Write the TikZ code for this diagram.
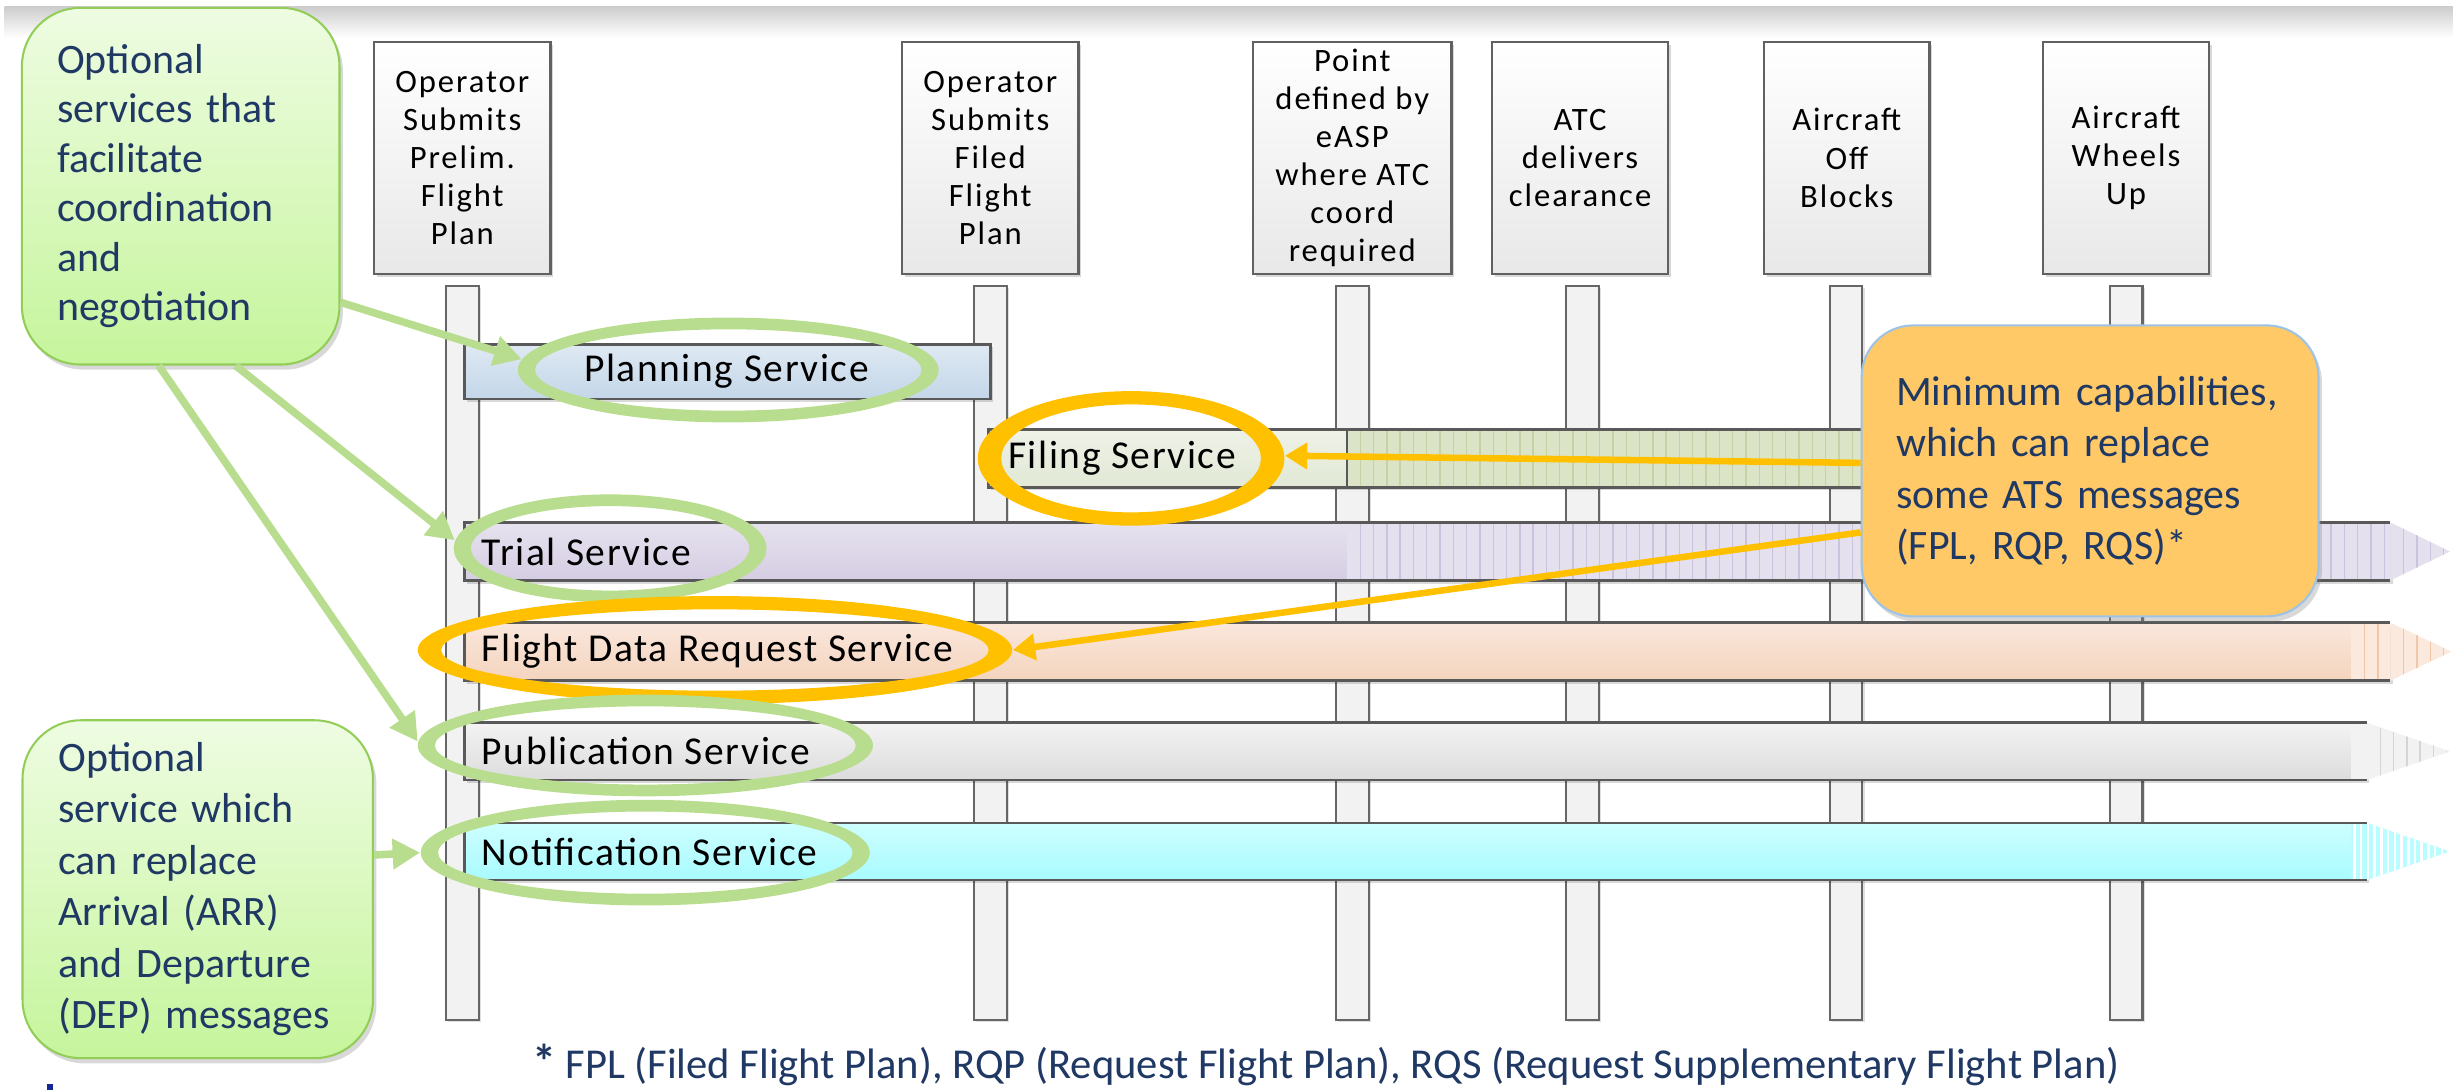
\documentclass[tikz,border=0pt]{standalone}
\usepackage{fontspec}
\setmainfont{Carlito}
\newfontfamily\hdrfont[LetterSpace=6]{Carlito}
\newfontfamily\barfont[LetterSpace=4]{Carlito}
\usetikzlibrary{arrows.meta,shadows,shapes.geometric}
\newcommand\PX[1]{#1*0.016cm}
\definecolor{navy}{HTML}{1F3864}
\definecolor{grn}{HTML}{B9DD8E}
\definecolor{orng}{HTML}{FFC000}
\definecolor{callT}{HTML}{EEFCE2}
\definecolor{callB}{HTML}{C6F59C}
\definecolor{callD}{HTML}{92CD58}
\definecolor{oboxF}{HTML}{FEC966}
\definecolor{oboxD}{HTML}{9DC3E6}
\definecolor{plnT}{HTML}{DFE9F3}
\definecolor{plnB}{HTML}{C3D6E8}
\definecolor{filT}{HTML}{EFF2E8}
\definecolor{filB}{HTML}{E1E8D4}
\definecolor{filS}{HTML}{DCE4C8}
\definecolor{filL}{HTML}{C6D1A6}
\definecolor{triT}{HTML}{E6E2EF}
\definecolor{triB}{HTML}{D5CDE3}
\definecolor{triS}{HTML}{E4E0EE}
\definecolor{triL}{HTML}{CBC3DD}
\definecolor{fdrT}{HTML}{FAE7DC}
\definecolor{fdrB}{HTML}{F4D4BE}
\definecolor{fdrS}{HTML}{FBE9DE}
\definecolor{fdrL}{HTML}{EFC6A8}
\definecolor{pubT}{HTML}{F3F3F3}
\definecolor{pubB}{HTML}{DCDCDC}
\definecolor{pubS}{HTML}{F2F2F2}
\definecolor{pubL}{HTML}{D5D5D5}
\definecolor{notT}{HTML}{CDFEFF}
\definecolor{notB}{HTML}{A8FBFF}
\definecolor{notS}{HTML}{B8FDFF}
\tikzset{
  hdrbox/.style={draw=black!62, line width=0.7pt, top color=white, bottom color=black!9,
    align=center, inner sep=0pt, minimum height=\PX{148},
    font=\hdrfont\fontsize{9.5}{11.1}\selectfont,
    drop shadow={shadow xshift=0.8pt, shadow yshift=-0.8pt, opacity=0.3}},
  lifeln/.style={draw=black!60, line width=0.6pt, fill=black!5, inner sep=0pt,
    minimum width=\PX{21}, minimum height=\PX{469},
    drop shadow={shadow xshift=0.6pt, shadow yshift=-0.6pt, opacity=0.25}},
  barln/.style={draw=black!65, line width=0.8pt},
  shad/.style={fill=black, opacity=0.15},
  lbl/.style={font=\barfont\fontsize{11.5}{13}\selectfont, inner sep=0pt, anchor=west},
  ellnode/.style={ellipse, inner sep=0pt},
  callg/.style={draw=callD, line width=0.6pt, top color=callT, bottom color=callB,
    rounded corners=17pt, align=left, text=navy, inner sep=0pt,
    drop shadow={shadow xshift=1pt, shadow yshift=-1.5pt, opacity=0.3}},
  callo/.style={draw=oboxD, line width=0.6pt, fill=oboxF,
    rounded corners=15pt, align=left, text=navy, inner sep=0pt,
    font=\fontsize{12.2}{15}\selectfont,
    drop shadow={shadow xshift=1pt, shadow yshift=-1.5pt, opacity=0.3}},
  garrow/.style={draw=grn, line width=2.2pt, -{Triangle[length=8pt,width=8.5pt]}},
  oarrow/.style={draw=orng, line width=1.9pt, -{Triangle[length=6.5pt,width=7.5pt]}},
}
\begin{document}
\begin{tikzpicture}[x=0.016cm,y=-0.016cm]
\useasboundingbox (0,0) rectangle (1568,697);
\fill[white] (0,0) rectangle (1568,697);
% top band
\shade[top color=black!20, bottom color=white] (3,4) rectangle (1568,24);

% header boxes
\node[hdrbox, minimum width=\PX{113}] (h1) at (295.5,101) {Operator\\Submits\\Prelim.\\Flight\\Plan};
\node[hdrbox, minimum width=\PX{113}] (h2) at (633,101) {Operator\\Submits\\Filed\\Flight\\Plan};
\node[hdrbox, minimum width=\PX{127}] (h3) at (864.4,101) {Point\\defined by\\eASP\\where ATC\\coord\\required};
\node[hdrbox, minimum width=\PX{112.5}] (h4) at (1010,101) {ATC\\delivers\\clearance};
\node[hdrbox, minimum width=\PX{105.7}] (h5) at (1180.5,101) {Aircraft\\Off\\Blocks};
\node[hdrbox, minimum width=\PX{106}] (h6) at (1359,101) {Aircraft\\Wheels\\Up};

% lifelines
\node[lifeln] (l1) at (295.5,417.5) {};
\node[lifeln] (l2) at (633,417.5) {};
\node[lifeln] (l3) at (864.5,417.5) {};
\node[lifeln] (l4) at (1011.5,417.5) {};
\node[lifeln] (l5) at (1180,417.5) {};
\node[lifeln] (l6) at (1359,417.5) {};

% Planning bar
\fill[shad] (298.5,222) rectangle (634.5,257);
\draw[barln, top color=plnT, bottom color=plnB] (297,220) rectangle (633,255);

% Filing bar
\fill[shad] (633.5,276.5) rectangle (1191.5,313.5);
\fill[filS] (861,274.5) rectangle (1190,311.5);
\foreach \xx in {869.5,878,...,1189} \draw[filL, line width=0.4pt] (\xx,274.5) -- (\xx,311.5);
\draw[barln, top color=filT, bottom color=filB] (632,274.5) rectangle (861,311.5);
\draw[barln] (861,274.5) -- (1190,274.5) (861,311.5) -- (1190,311.5);

% Trial bar
\fill[shad] (298.5,336) rectangle (1529.5,373);
\fill[triS] (861,334) rectangle (1528,371);
\foreach \xx in {869.5,878,...,1528} \draw[triL, line width=0.4pt] (\xx,334) -- (\xx,371);
\shade[top color=triT, bottom color=triB] (297,334) rectangle (861,371);
\draw[barln] (1528,334) -- (297,334) -- (297,371) -- (1528,371);
\begin{scope}
  \clip (1528,334) -- (1566,352.5) -- (1528,371) -- cycle;
  \fill[triS] (1528,334) rectangle (1566,371);
  \foreach \xx in {1536.5,1545,...,1566} \draw[triL, line width=0.4pt] (\xx,334) -- (\xx,371);
\end{scope}

% Flight Data Request bar
\fill[shad] (298.5,400) rectangle (1529.5,437);
\shade[top color=fdrT, bottom color=fdrB] (297,398) rectangle (1503,435);
\fill[fdrS] (1503,398) rectangle (1528,435);
\foreach \xx in {1511.5,1520} \draw[fdrL, line width=0.4pt] (\xx,398) -- (\xx,435);
\draw[barln] (1528,398) -- (297,398) -- (297,435) -- (1528,435);
\begin{scope}
  \clip (1528,398) -- (1567,416.5) -- (1528,435) -- cycle;
  \fill[fdrS] (1528,398) rectangle (1567,435);
  \foreach \xx in {1536.5,1545,...,1567} \draw[fdrL, line width=0.4pt] (\xx,398) -- (\xx,435);
\end{scope}

% Publication bar
\fill[shad] (298.5,464) rectangle (1514.5,500.6);
\shade[top color=pubT, bottom color=pubB] (297,462) rectangle (1503,498.6);
\fill[pubS] (1503,462) rectangle (1513,498.6);
\draw[barln] (1513,462) -- (297,462) -- (297,498.6) -- (1513,498.6);
\begin{scope}
  \clip (1513,462) -- (1566,480.3) -- (1513,498.6) -- cycle;
  \fill[pubS] (1513,462) rectangle (1566,498.6);
  \foreach \xx in {1521.5,1530,...,1566} \draw[pubL, line width=0.4pt] (\xx,462) -- (\xx,498.6);
\end{scope}

% Notification bar
\fill[shad] (298.5,528) rectangle (1514.5,564.5);
\shade[top color=notT, bottom color=notB] (297,526) rectangle (1503,562.5);
\begin{scope}
  \clip (1503,526) -- (1513,526) -- (1566,544.25) -- (1513,562.5) -- (1503,562.5) -- cycle;
  \fill[notS] (1503,526) rectangle (1566,562.5);
  \foreach \xx in {1505,1509.3,...,1566} \draw[white, line width=0.75pt] (\xx,526) -- (\xx,562.5);
\end{scope}
\draw[barln] (1513,526) -- (297,526) -- (297,562.5) -- (1513,562.5);

% bar labels
\node[lbl] (tPlan) at (373,237.5) {Planning Service};
\node[lbl] (tFile) at (644,293) {Filing Service};
\node[lbl] (tTrial) at (307.5,352.5) {Trial Service};
\node[lbl] (tFDR) at (307.5,416.5) {Flight Data Request Service};
\node[lbl] (tPub) at (307.5,480.3) {Publication Service};
\node[lbl] (tNotif) at (307.5,544.3) {Notification Service};

% highlight ellipses
\node[ellnode, minimum width=\PX{269}, minimum height=\PX{67}] (ePlan) at (465.5,236.5) {};
\node[ellnode, minimum width=\PX{196}, minimum height=\PX{86}] (eFile) at (723,293) {};
\node[ellnode, minimum width=\PX{200}, minimum height=\PX{69}] (eTrial) at (390,350.5) {};
\node[ellnode, minimum width=\PX{380}, minimum height=\PX{69}] (eFDR) at (457,415.5) {};
\node[ellnode, minimum width=\PX{291}, minimum height=\PX{65}] (ePub) at (412.5,476.5) {};
\node[ellnode, minimum width=\PX{287}, minimum height=\PX{67.5}] (eNotif) at (412.5,545) {};
\fill[grn, even odd rule] (ePlan.center) ellipse [x radius=134.5, y radius=33.5] ellipse [x radius=123.5, y radius=26];
\fill[orng, even odd rule] (eFile.center) ellipse [x radius=98, y radius=43] ellipse [x radius=83, y radius=34.5];
\fill[grn, even odd rule] (eTrial.center) ellipse [x radius=100, y radius=34.5] ellipse [x radius=89, y radius=27];
\fill[orng, even odd rule] (eFDR.center) ellipse [x radius=190, y radius=34.5] ellipse [x radius=175, y radius=26];
\fill[grn, even odd rule] (ePub.center) ellipse [x radius=145.5, y radius=32.5] ellipse [x radius=134.5, y radius=25];
\fill[grn, even odd rule] (eNotif.center) ellipse [x radius=143.5, y radius=33.75] ellipse [x radius=132.5, y radius=26.25];

% callouts
\node[callg, minimum width=\PX{203}, minimum height=\PX{228}, text width=\PX{158},
  font=\fontsize{12.2}{14.4}\selectfont] (g1) at (115.5,119)
  {Optional\\services that\\facilitate\\coordination\\and\\negotiation};
\node[callg, minimum width=\PX{224}, minimum height=\PX{216}, text width=\PX{178},
  font=\fontsize{12.2}{15}\selectfont] (g2) at (126.4,568.4)
  {Optional\\service which\\can replace\\Arrival (ARR)\\and Departure\\(DEP) messages};
\node[callo, minimum width=\PX{292}, minimum height=\PX{186}, text width=\PX{248}] (oBox) at (1336,301)
  {Minimum capabilities,\\which can replace\\some ATS messages\\(FPL, RQP, RQS)*};

% arrows
\draw[garrow] (g1.-36) -- (ePlan.177);
\draw[garrow] (g1.-73) -- (eTrial.177);
\draw[garrow] (g1.-97) -- (ePub.179);
\draw[garrow] (g2.11) -- (eNotif.west);
\draw[oarrow] (oBox.178) -- (eFile.1);
\draw[oarrow] (oBox.195) -- (eFDR.east);

% footnote
\node[text=navy, font=\fontsize{12.4}{14}\selectfont, inner sep=0pt] (fn) at (847.5,681)
  {{\bfseries\fontsize{14}{14}\selectfont *} FPL (Filed Flight Plan), RQP (Request Flight Plan), RQS (Request Supplementary Flight Plan)};
\fill[navy!70!blue] (30,693) rectangle (34,697);
\end{tikzpicture}
\end{document}
